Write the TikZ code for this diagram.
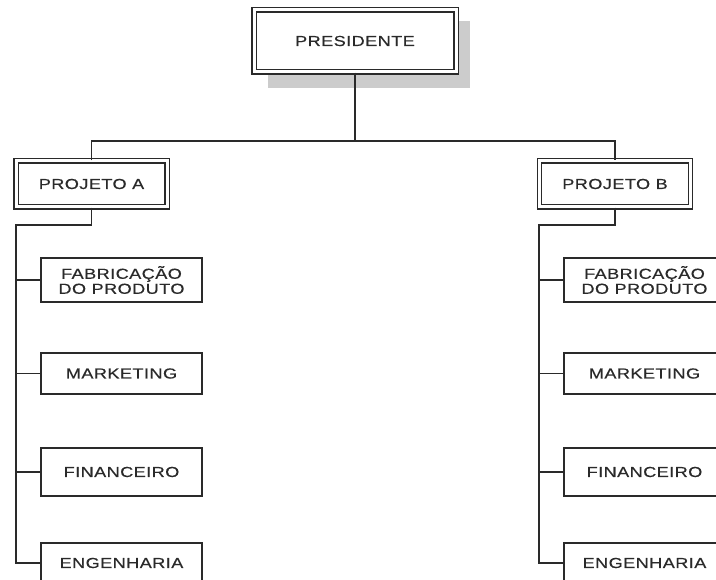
\documentclass[tikz,border=0pt]{standalone}
\usepackage{fontspec}
\newfontfamily\boxfont[FakeStretch=1.25,LetterSpace=3,FakeBold=0.4]{Liberation Sans}
\definecolor{ink}{HTML}{2A2A2A}
\definecolor{shadowgray}{HTML}{CCCCCC}
\begin{document}
\begin{tikzpicture}[x=1pt,y=-1pt,
  conn/.style={draw=ink,line width=1.3pt},
  txt/.style={text=ink,font=\boxfont\fontsize{14.5}{15}\selectfont,align=center,inner sep=0pt},
  dbox/.style={txt,draw=ink,line width=1.2pt,double=white,double distance=3pt,fill=white},
  sbox/.style={txt,draw=ink,line width=1.3pt,fill=white,minimum width=161pt}]
\useasboundingbox (0,0) rectangle (716,580);
\clip (0,0) rectangle (716,580);

% shadow behind the top box
\fill[shadowgray] (268,21) rectangle (470,88);

% top level and project boxes
\node[dbox,minimum width=202pt,minimum height=62pt] (pres) at (355,41) {PRESIDENTE};
\node[dbox,minimum width=151pt,minimum height=46pt] (projA) at (91.5,184) {PROJETO A};
\node[dbox,minimum width=151pt,minimum height=46pt] (projB) at (615,184) {PROJETO B};

% departments under each project
\node[sbox,minimum height=44pt] (fabA) at (121.5,280) {FABRICAÇÃO\\DO PRODUTO};
\node[sbox,minimum height=41pt] (mktA) at (121.5,373.5) {MARKETING};
\node[sbox,minimum height=48pt] (finA) at (121.5,472) {FINANCEIRO};
\node[sbox,minimum height=40pt] (engA) at (121.5,563) {ENGENHARIA};

\node[sbox,minimum height=44pt] (fabB) at (644.5,280) {FABRICAÇÃO\\DO PRODUTO};
\node[sbox,minimum height=41pt] (mktB) at (644.5,373.5) {MARKETING};
\node[sbox,minimum height=48pt] (finB) at (644.5,472) {FINANCEIRO};
\node[sbox,minimum height=40pt] (engB) at (644.5,563) {ENGENHARIA};

% connector bends
\coordinate (bus) at (0,141);
\coordinate (kA) at (16,225);
\coordinate (kB) at (539,225);

% connectors
\draw[conn] (pres.south) -- (pres.south |- bus);
\draw[conn] (projA.north) |- (bus -| projB.north) -- (projB.north);

\draw[conn] (projA.south) |- (kA) -- (kA |- engA.west) -- (engA.west);
\draw[conn] (fabA.west) -- (fabA.west -| kA);
\draw[conn] (mktA.west) -- (mktA.west -| kA);
\draw[conn] (finA.west) -- (finA.west -| kA);

\draw[conn] (projB.south) |- (kB) -- (kB |- engB.west) -- (engB.west);
\draw[conn] (fabB.west) -- (fabB.west -| kB);
\draw[conn] (mktB.west) -- (mktB.west -| kB);
\draw[conn] (finB.west) -- (finB.west -| kB);
\end{tikzpicture}
\end{document}
